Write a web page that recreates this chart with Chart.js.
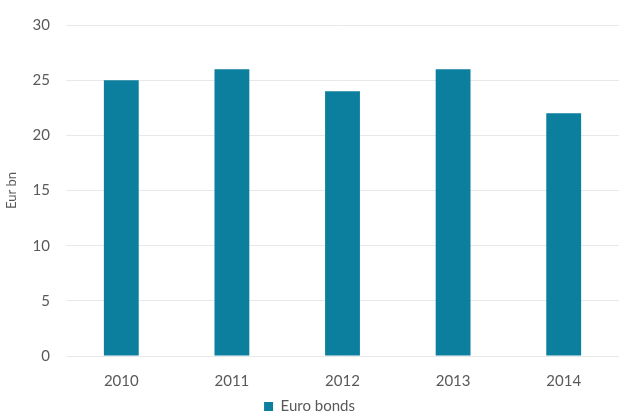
<!DOCTYPE html>
<html>
<head>
<meta charset="utf-8">
<script src="https://cdn.jsdelivr.net/npm/chart.js@4"></script>
<style>
  html, body { margin: 0; padding: 0; background: #fff; }
  #wrap { width: 619px; height: 412px; }
</style>
</head>
<body>
<div id="wrap"><canvas id="chart"></canvas></div>
<script>
const years = ['2010', '2011', '2012', '2013', '2014'];
const euroBonds = [25, 26, 24, 26, 22];
const yTicks = [0, 5, 10, 15, 20, 25, 30];

const ctx = document.getElementById('chart').getContext('2d');
new Chart(ctx, {
    type: 'bar',
    data: {
        labels: years,
        datasets: [{
            label: 'Euro bonds',
            data: euroBonds,
            backgroundColor: '#0b7f9d',
            borderWidth: 0,
            barPercentage: 1,
            categoryPercentage: 0.315
        }]
    },
    options: {
        responsive: true,
        maintainAspectRatio: false,
        animation: false,
        // negative bottom padding pushes the legend down near the edge like the original
        layout: { padding: { top: 23, right: 0, bottom: -12, left: 0 } },
        scales: {
            x: {
                grid: { display: false },
                border: { display: false },
                ticks: { color: '#595959', font: { family: 'Lato', size: 15 }, padding: 8 },
                afterFit: (scale) => { scale.height = 43; }
            },
            y: {
                min: 0,
                max: 30,
                afterBuildTicks: (scale) => { scale.ticks = yTicks.map(v => ({ value: v })); },
                grid: { color: '#e8e8e8', drawTicks: false },
                border: { display: false },
                ticks: { color: '#595959', font: { family: 'Lato', size: 15 }, padding: 16 },
                title: {
                    display: true,
                    text: 'Eur bn',
                    color: '#595959',
                    font: { family: 'Lato', size: 13 },
                    padding: { top: 4, bottom: 0 }
                },
                afterFit: (scale) => { scale.width = 66; }
            }
        },
        plugins: {
            legend: {
                position: 'bottom',
                labels: {
                    color: '#595959',
                    font: { family: 'Lato', size: 15 },
                    boxWidth: 9,
                    boxHeight: 9,
                    padding: 0
                }
            },
            tooltip: { enabled: false }
        }
    }
});
</script>
</body>
</html>
